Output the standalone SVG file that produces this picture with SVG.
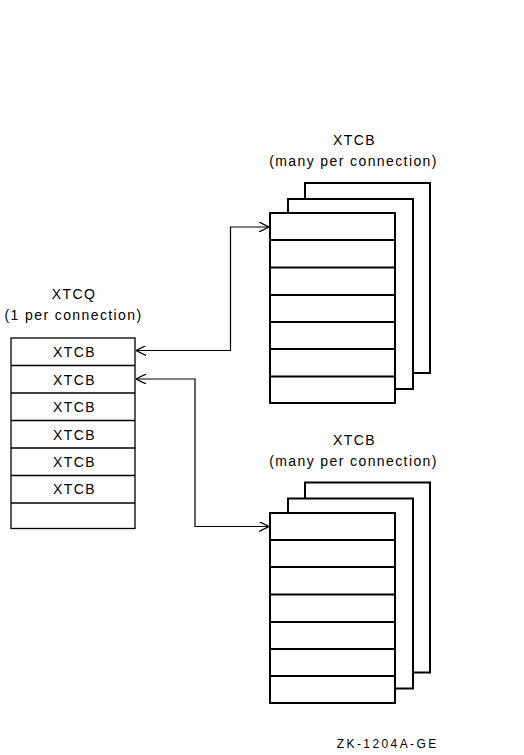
<svg xmlns="http://www.w3.org/2000/svg" width="524" height="755" viewBox="0 0 524 755">
<style>
text{font-family:"Liberation Sans",Arial,sans-serif;font-size:14px;letter-spacing:1.4px;fill:#000;text-anchor:middle}
.page{fill:#fff;stroke:#000;stroke-width:2}
.row{stroke:#000;stroke-width:2}
.q{fill:#fff;stroke:#000;stroke-width:1.3}
.qr{stroke:#000;stroke-width:1.3}
.conn{fill:none;stroke:#000;stroke-width:1.2}
</style>
<defs>
<marker id="ah" viewBox="0 0 10 10" refX="10" refY="5" markerWidth="10" markerHeight="10" markerUnits="userSpaceOnUse" orient="auto-start-reverse">
<path d="M0,0 L10,5 L0,10" fill="none" stroke="#000" stroke-width="1.2"/>
</marker>
</defs>
<rect width="524" height="755" fill="#fff"/>
<g id="xtcq">
<text x="74" y="299">XTCQ</text>
<text x="73.5" y="320">(1 per connection)</text>
<rect class="q" x="11" y="338" width="124" height="190.5"/>
<line class="qr" x1="11" y1="365.5" x2="135" y2="365.5"/>
<line class="qr" x1="11" y1="393" x2="135" y2="393"/>
<line class="qr" x1="11" y1="420.5" x2="135" y2="420.5"/>
<line class="qr" x1="11" y1="448" x2="135" y2="448"/>
<line class="qr" x1="11" y1="475.5" x2="135" y2="475.5"/>
<line class="qr" x1="11" y1="503" x2="135" y2="503"/>
<text x="74.5" y="357">XTCB</text>
<text x="74.5" y="385">XTCB</text>
<text x="74.5" y="412">XTCB</text>
<text x="74.5" y="440">XTCB</text>
<text x="74.5" y="467">XTCB</text>
<text x="74.5" y="494">XTCB</text>
</g>
<g id="xtcb-top">
<text x="354.5" y="145">XTCB</text>
<text x="353.5" y="166">(many per connection)</text>
<rect class="page" x="305" y="183" width="125" height="190"/>
<rect class="page" x="288" y="199" width="125" height="190"/>
<rect class="page" x="270" y="213" width="125" height="190"/>
<line class="row" x1="270" y1="240" x2="395" y2="240"/>
<line class="row" x1="270" y1="267.5" x2="395" y2="267.5"/>
<line class="row" x1="270" y1="295" x2="395" y2="295"/>
<line class="row" x1="270" y1="322" x2="395" y2="322"/>
<line class="row" x1="270" y1="349" x2="395" y2="349"/>
<line class="row" x1="270" y1="376.5" x2="395" y2="376.5"/>
</g>
<g id="xtcb-bottom">
<text x="354.5" y="445">XTCB</text>
<text x="353.5" y="466">(many per connection)</text>
<rect class="page" x="305" y="482.5" width="125" height="190"/>
<rect class="page" x="288" y="498.5" width="125" height="190"/>
<rect class="page" x="270" y="513" width="125" height="190"/>
<line class="row" x1="270" y1="540" x2="395" y2="540"/>
<line class="row" x1="270" y1="567" x2="395" y2="567"/>
<line class="row" x1="270" y1="594.5" x2="395" y2="594.5"/>
<line class="row" x1="270" y1="622" x2="395" y2="622"/>
<line class="row" x1="270" y1="649" x2="395" y2="649"/>
<line class="row" x1="270" y1="676" x2="395" y2="676"/>
</g>
<g id="connectors">
<path class="conn" d="M136,350.5 H230.5 V227 H269" marker-start="url(#ah)" marker-end="url(#ah)"/>
<path class="conn" d="M136,379 H195 V526.5 H269" marker-start="url(#ah)" marker-end="url(#ah)"/>
</g>
<text x="387.7" y="748" style="font-size:12px;letter-spacing:2.4px">ZK-1204A-GE</text>
</svg>
